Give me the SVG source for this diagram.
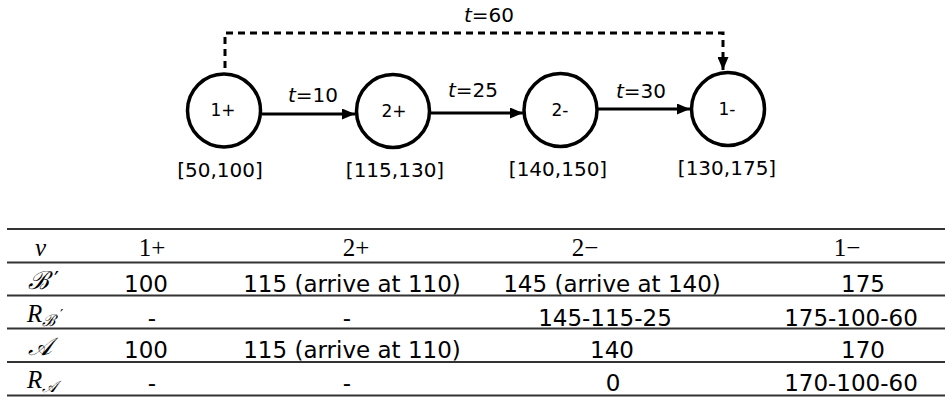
<svg xmlns="http://www.w3.org/2000/svg" width="952" height="401" viewBox="0 0 952 401">
<defs>
<marker id="ah" markerUnits="userSpaceOnUse" markerWidth="13" markerHeight="11" refX="13" refY="5.5" orient="auto">
<path d="M0,0 L13,5.5 L0,11 z" fill="#000"/>
</marker>
<style>
.node{fill:#fff;stroke:#000;stroke-width:3.5}
.nl{font-family:"DejaVu Sans",sans-serif;font-size:17px;fill:#000;text-anchor:middle}
.bl{font-family:"DejaVu Sans",sans-serif;font-size:20px;fill:#000;text-anchor:middle}
.el{font-family:"DejaVu Sans",sans-serif;font-size:20px;fill:#000;text-anchor:middle}
.edge{stroke:#000;stroke-width:3;fill:none}
.dash{stroke-dasharray:7 5}
.hl{stroke:#333;stroke-width:2}
.td{font-family:"DejaVu Sans",sans-serif;font-size:23px;fill:#000;text-anchor:middle}
.th{font-family:"Liberation Serif",serif;font-size:25px;fill:#000;text-anchor:middle}
.rl{font-family:"Liberation Serif","DejaVu Serif",serif;font-style:italic;font-size:25px;fill:#000}
.pr{font-family:"DejaVu Serif",serif;font-style:normal;fill:#000}
</style>
</defs>
<g id="connectors">
<line class="edge" x1="262" y1="114" x2="355" y2="114" marker-end="url(#ah)"/>
<line class="edge" x1="431" y1="113" x2="523" y2="113" marker-end="url(#ah)"/>
<line class="edge" x1="598" y1="109" x2="690" y2="109" marker-end="url(#ah)"/>
<path class="edge dash" d="M225,68 V33 H723 V70" marker-end="url(#ah)"/>
<text class="el" x="313" y="102"><tspan font-style="italic">t</tspan>=10</text>
<text class="el" x="473" y="97"><tspan font-style="italic">t</tspan>=25</text>
<text class="el" x="641" y="98"><tspan font-style="italic">t</tspan>=30</text>
<text class="el" x="489" y="22"><tspan font-style="italic">t</tspan>=60</text>
</g>
<g id="n1p">
<circle class="node" cx="224" cy="110.5" r="36.5"/>
<text class="nl" x="223" y="116">1+</text>
<text class="bl" x="220" y="177">[50,100]</text>
</g>
<g id="n2p">
<circle class="node" cx="393" cy="111" r="36.5"/>
<text class="nl" x="394" y="117">2+</text>
<text class="bl" x="395" y="177">[115,130]</text>
</g>
<g id="n2m">
<circle class="node" cx="560.5" cy="110" r="36.5"/>
<text class="nl" x="560" y="116">2-</text>
<text class="bl" x="558" y="176">[140,150]</text>
</g>
<g id="n1m">
<circle class="node" cx="728" cy="109" r="36.5"/>
<text class="nl" x="727" y="115">1-</text>
<text class="bl" x="727" y="175">[130,175]</text>
</g>
<g id="table">
<line class="hl" x1="7" y1="229" x2="945" y2="229"/>
<line class="hl" x1="7" y1="262.5" x2="945" y2="262.5"/>
<line class="hl" x1="7" y1="295.5" x2="945" y2="295.5"/>
<line class="hl" x1="7" y1="328.5" x2="945" y2="328.5"/>
<line class="hl" x1="7" y1="362" x2="945" y2="362"/>
<line class="hl" x1="7" y1="395.5" x2="945" y2="395.5"/>
<text class="rl" x="35" y="256">ν</text>
<text class="th" x="152" y="256">1+</text>
<text class="th" x="356" y="256">2+</text>
<text class="th" x="585" y="256">2−</text>
<text class="th" x="847" y="256">1−</text>
<text class="rl" x="28" y="289">ℬ</text>
<text class="pr" x="54" y="287" font-size="22">′</text>
<text class="td" x="146" y="292">100</text>
<text class="td" x="352" y="292">115 (arrive at 110)</text>
<text class="td" x="612" y="292">145 (arrive at 140)</text>
<text class="td" x="863" y="292">175</text>
<text class="rl" x="27" y="322">R<tspan font-size="16" dy="4">ℬ</tspan></text>
<text class="pr" x="60" y="320" font-size="15">′</text>
<text class="td" x="152" y="326">-</text>
<text class="td" x="347" y="326">-</text>
<text class="td" x="605" y="326">145-115-25</text>
<text class="td" x="851" y="326">175-100-60</text>
<text class="rl" x="28" y="355">𝒜</text>
<text class="td" x="146" y="358">100</text>
<text class="td" x="352" y="358">115 (arrive at 110)</text>
<text class="td" x="612" y="358">140</text>
<text class="td" x="863" y="358">170</text>
<text class="rl" x="27" y="388">R<tspan font-size="16" dy="4">𝒜</tspan></text>
<text class="td" x="152" y="391">-</text>
<text class="td" x="347" y="391">-</text>
<text class="td" x="613" y="391">0</text>
<text class="td" x="851" y="391">170-100-60</text>
</g>
</svg>
